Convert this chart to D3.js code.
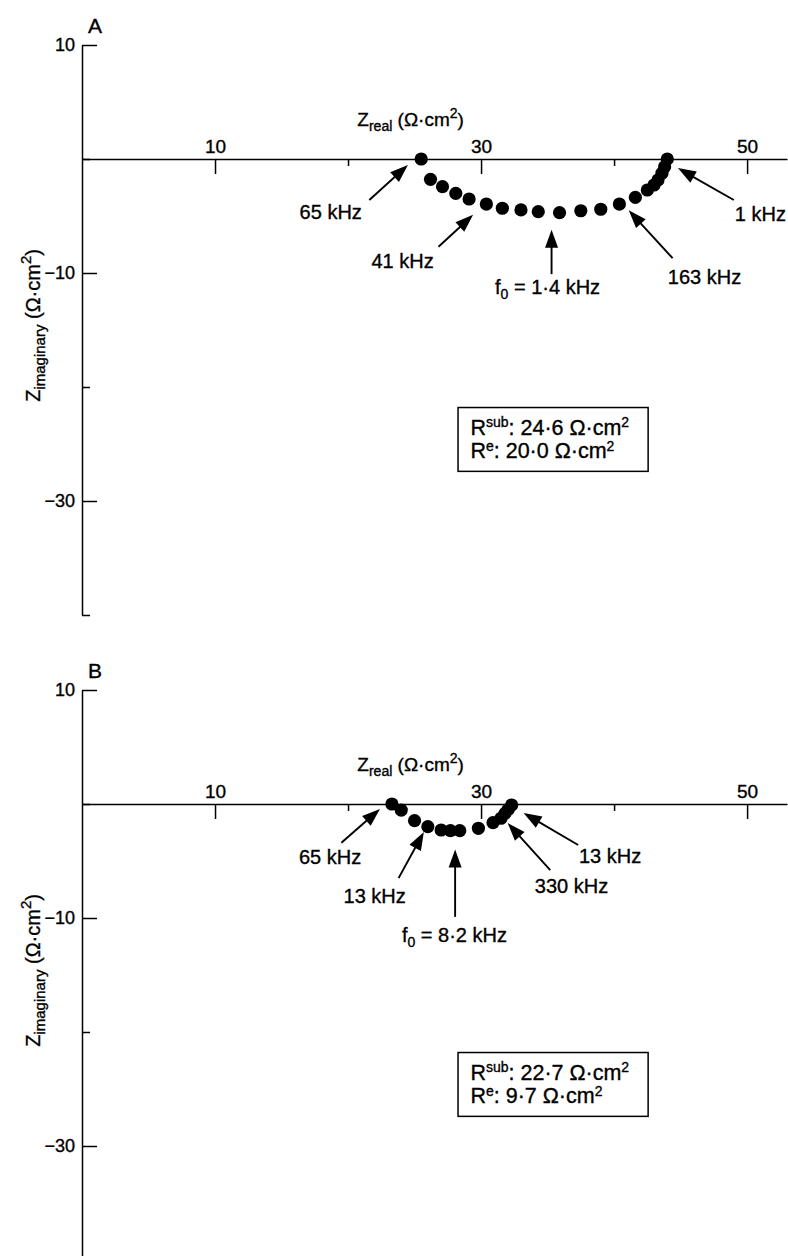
<!DOCTYPE html>
<html>
<head>
<meta charset="utf-8">
<script src="https://cdn.jsdelivr.net/npm/d3@7"></script>
<style>
  body { margin: 0; background: #fff; }
  svg { display: block; font-family: "Liberation Sans", Arial, Helvetica, sans-serif; }
  svg text { stroke: #000; stroke-width: 0.35px; fill: #000; }
</style>
</head>
<body>
<svg width="788" height="1256"></svg>
<script>
// Impedance (Nyquist) data, Ω·cm²
const zRealA = [25.5, 26.2, 27.1, 28.1, 29.1, 30.4, 31.6, 33.0, 34.3, 35.9, 37.5, 39.0, 40.4, 41.6, 42.5, 43.0, 43.3, 43.6, 43.8, 44.0];
const zImagA = [0, -1.78, -2.43, -3.01, -3.51, -3.95, -4.32, -4.47, -4.62, -4.71, -4.54, -4.41, -3.95, -3.36, -2.72, -2.28, -1.84, -1.25, -0.68, 0];

const zRealB = [23.3, 24.0, 25.0, 26.0, 27.0, 27.7, 28.4, 29.8, 30.9, 31.5, 31.8, 32.05, 32.3];
const zImagB = [0, -0.53, -1.46, -1.99, -2.28, -2.34, -2.34, -2.13, -1.64, -1.25, -0.82, -0.46, -0.09];

const xTicks = [10, 20, 30, 40, 50];
const xTickLabels = ["10", "", "30", "", "50"];
const yTicks = [10, 0, -10, -20, -30, -40];
const yTickLabels = ["10", "", "−10", "", "−30", ""];

const rSub = ["24·6", "22·7"];
const rE = ["20·0", "9·7"];

// arrow annotations: tail, tip and label anchor in data units
const annotationsA = [
  { text: "65 kHz", tail: [21.6, -3.6], tip: [24.5, -0.53], at: [18.7, -5.26] },
  { text: "41 kHz", tail: [26.8, -7.7], tip: [29.4, -4.9], at: [24.1, -9.56] },
  { text: "f0", f0: "1·4 kHz", tail: [35.3, -10.1], tip: [35.3, -6.2], at: [35.0, -11.8] },
  { text: "163 kHz", tail: [44.4, -8.7], tip: [41.1, -4.5], at: [46.8, -11.0] },
  { text: "1 kHz", tail: [49.0, -3.6], tip: [44.8, -0.8], at: [51.0, -5.4] }
];
const annotationsB = [
  { text: "65 kHz", tail: [19.5, -3.4], tip: [22.4, -0.44], at: [18.65, -5.26] },
  { text: "13 kHz", tail: [23.8, -6.5], tip: [25.7, -2.46], at: [22.0, -8.68] },
  { text: "f0", f0: "8·2 kHz", tail: [28.05, -9.9], tip: [28.05, -4.0], at: [28.0, -12.1] },
  { text: "330 kHz", tail: [35.2, -5.8], tip: [32.0, -1.67], at: [36.8, -7.81] },
  { text: "13 kHz", tail: [37.3, -3.6], tip: [33.2, -0.79], at: [39.7, -5.18] }
];

const panels = [
  { letter: "A", real: zRealA, imag: zImagA, notes: annotationsA, off: 0 },
  { letter: "B", real: zRealB, imag: zImagB, notes: annotationsB, off: 645 }
];

const svg = d3.select("svg");
const x = d3.scaleLinear().domain([0, 53]).range([82, 787]);

function arrow(g, x1, y1, x2, y2) {
  const dx = x2 - x1, dy = y2 - y1, L = Math.hypot(dx, dy);
  const ux = dx / L, uy = dy / L, hl = 18, hw = 6.5;
  const bx = x2 - ux * hl, by = y2 - uy * hl;
  g.append("line")
    .attr("x1", x1).attr("y1", y1).attr("x2", bx + ux * 2).attr("y2", by + uy * 2)
    .attr("stroke", "#000").attr("stroke-width", 1.9);
  g.append("path")
    .attr("d", `M${x2},${y2}L${bx - uy * hw},${by + ux * hw}L${bx + uy * hw},${by - ux * hw}Z`)
    .attr("fill", "#000");
}

panels.forEach((p, pi) => {
  const y = d3.scaleLinear().domain([10, -40]).range([45 + p.off, 615 + p.off]);
  const g = svg.append("g");

  // x axis along Zimag = 0, ticks down, labels above
  const xa = g.append("g")
    .attr("transform", `translate(0,${y(0)})`)
    .call(d3.axisBottom(x).tickValues(xTicks).tickSize(15).tickSizeOuter(0)
      .tickFormat((d, i) => xTickLabels[i]));
  xa.selectAll(".tick line").attr("y2", (d, i) => xTickLabels[i] ? 15 : 7);
  xa.selectAll(".tick text").attr("y", -6).attr("dy", 0)
    .attr("font-size", 19).attr("font-family", "Liberation Sans, Arial, sans-serif");

  // y axis, ticks right, labels left
  const ya = g.append("g")
    .attr("transform", `translate(${x(0)},0)`)
    .call(d3.axisLeft(y).tickValues(yTicks).tickSize(-15).tickSizeOuter(0).tickPadding(7)
      .tickFormat((d, i) => yTickLabels[i]));
  ya.selectAll(".tick line").attr("x2", (d, i) => yTickLabels[i] ? 15 : 8);
  ya.selectAll(".tick text").attr("font-size", 18).attr("font-family", "Liberation Sans, Arial, sans-serif");
  g.selectAll(".domain").attr("stroke-width", 1.5);
  g.selectAll(".tick line").attr("stroke-width", 1.5);

  // panel letter
  g.append("text").attr("x", x(0.45)).attr("y", y(11.05))
    .attr("font-size", 21).text(p.letter);

  // x title
  const xt = g.append("text").attr("x", x(20.7)).attr("y", y(2.9)).attr("font-size", 19);
  xt.append("tspan").text("Z");
  xt.append("tspan").attr("font-size", 14).attr("dy", 5).text("real");
  xt.append("tspan").attr("dy", -5).text(" (Ω·cm");
  xt.append("tspan").attr("font-size", 14).attr("dy", -8).text("2");
  xt.append("tspan").attr("dy", 8).text(")");

  // y title
  const yt = g.append("text")
    .attr("transform", `translate(40,${y(-14.6)}) rotate(-90)`)
    .attr("text-anchor", "middle").attr("font-size", 20);
  yt.append("tspan").text("Z");
  yt.append("tspan").attr("font-size", 15).attr("dy", 5).text("imaginary");
  yt.append("tspan").attr("dy", -5).text(" (Ω·cm");
  yt.append("tspan").attr("font-size", 15).attr("dy", -9).text("2");
  yt.append("tspan").attr("dy", 9).text(")");

  // data points
  g.selectAll("circle").data(p.real.map((r, i) => [r, p.imag[i]])).join("circle")
    .attr("cx", d => x(d[0])).attr("cy", d => y(d[1])).attr("r", 6.6).attr("fill", "#000");

  // arrows and labels
  p.notes.forEach(n => {
    arrow(g, x(n.tail[0]), y(n.tail[1]), x(n.tip[0]), y(n.tip[1]));
    const t = g.append("text").attr("x", x(n.at[0])).attr("y", y(n.at[1]))
      .attr("text-anchor", "middle").attr("font-size", 20);
    if (n.f0) {
      t.append("tspan").text("f");
      t.append("tspan").attr("font-size", 14).attr("dy", 5).text("0");
      t.append("tspan").attr("dy", -5).text(" = " + n.f0);
    } else {
      t.text(n.text);
    }
  });

  // resistance box
  g.append("rect")
    .attr("x", x(28.27)).attr("y", y(-21.8))
    .attr("width", x(42.56) - x(28.27)).attr("height", y(-27.4) - y(-21.8))
    .attr("fill", "none").attr("stroke", "#000").attr("stroke-width", 1.5);
  const l1 = g.append("text").attr("x", x(29.2)).attr("y", y(-24.2)).attr("font-size", 21.5);
  l1.append("tspan").text("R");
  l1.append("tspan").attr("font-size", 14).attr("dy", -8).text("sub");
  l1.append("tspan").attr("dy", 8).text(": " + rSub[pi] + " Ω·cm");
  l1.append("tspan").attr("font-size", 14).attr("dy", -8).text("2");
  const l2 = g.append("text").attr("x", x(29.2)).attr("y", y(-26.2)).attr("font-size", 21.5);
  l2.append("tspan").text("R");
  l2.append("tspan").attr("font-size", 14).attr("dy", -7).text("e");
  l2.append("tspan").attr("dy", 7).text(": " + rE[pi] + " Ω·cm");
  l2.append("tspan").attr("font-size", 14).attr("dy", -7).text("2");
});
</script>
</body>
</html>
